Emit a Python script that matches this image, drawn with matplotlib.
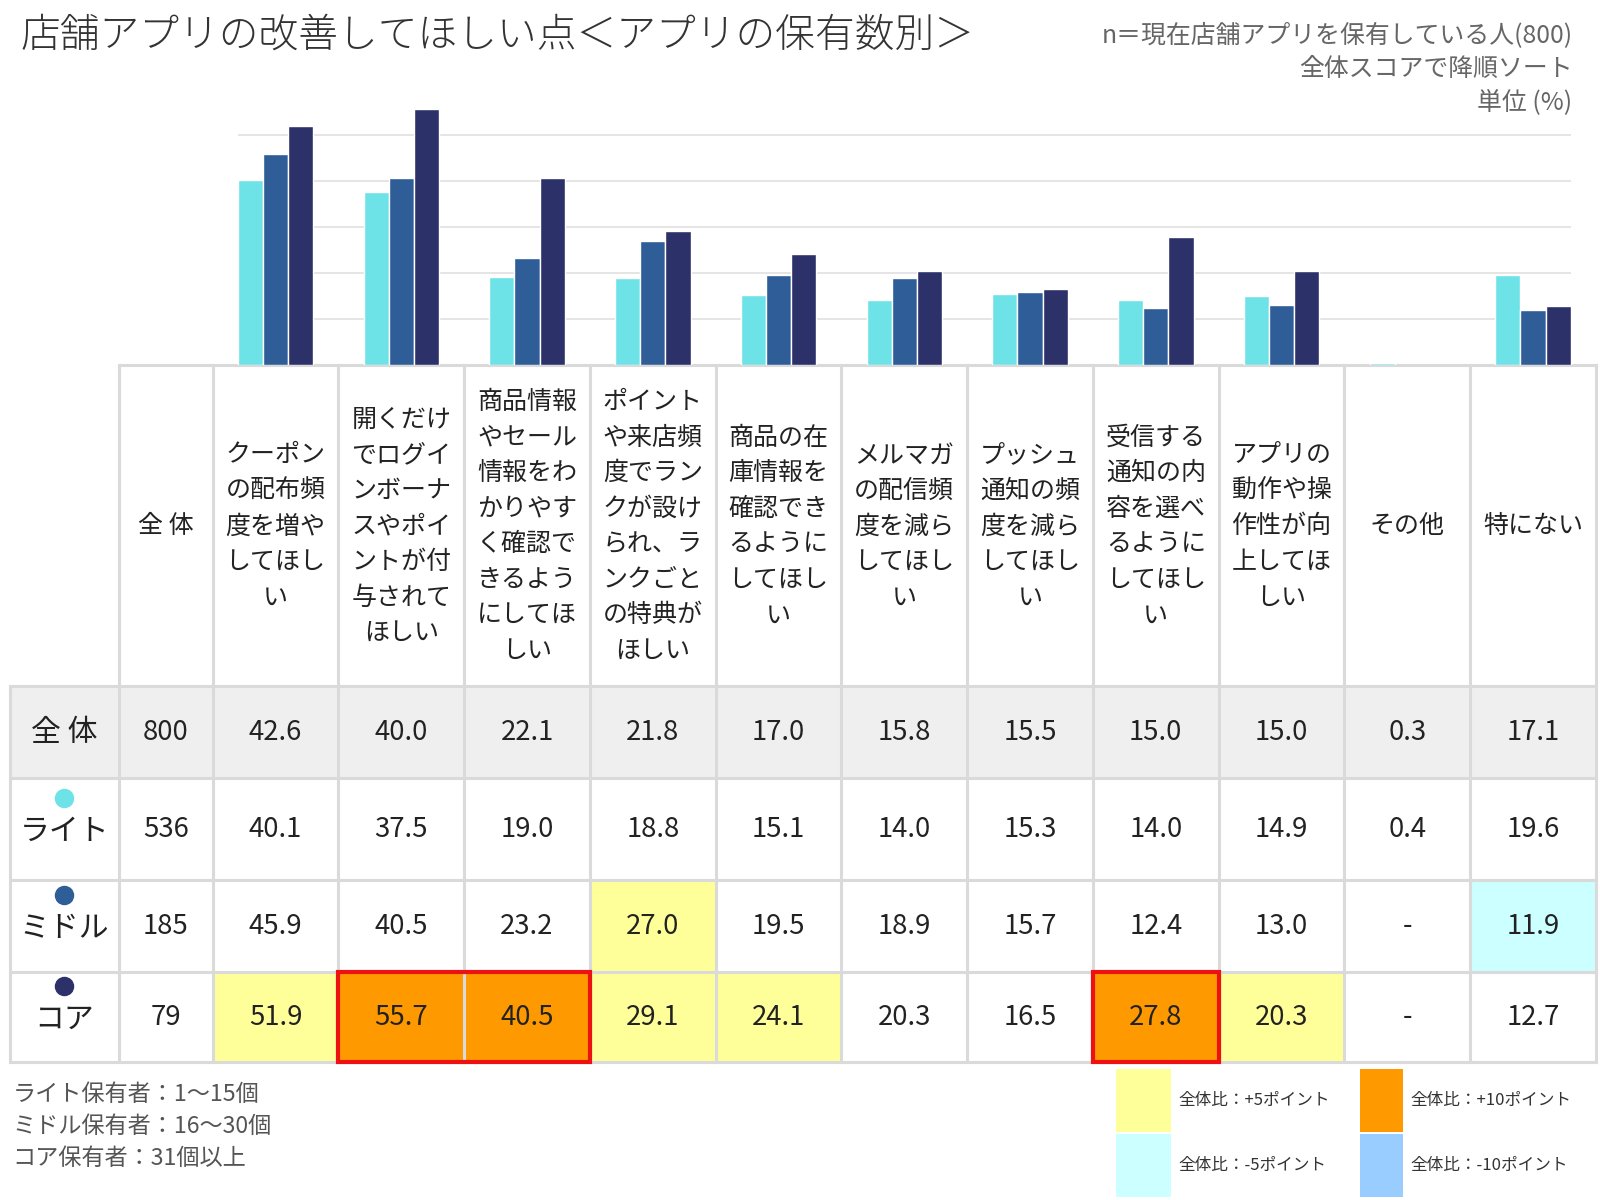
import numpy as np
import matplotlib
matplotlib.use("Agg")
import matplotlib.pyplot as plt
from matplotlib.patches import Rectangle

plt.rcParams['font.family'] = ['Noto Sans CJK JP', 'DejaVu Sans']

# ---------------- data ----------------
title = "店舗アプリの改善してほしい点＜アプリの保有数別＞"
notes = ["n＝現在店舗アプリを保有している人(800)", "全体スコアで降順ソート", "単位 (%)"]
categories = [
    "クーポン\nの配布頻\n度を増や\nしてほし\nい",
    "開くだけ\nでログイ\nンボーナ\nスやポイ\nントが付\n与されて\nほしい",
    "商品情報\nやセール\n情報をわ\nかりやす\nく確認で\nきるよう\nにしてほ\nしい",
    "ポイント\nや来店頻\n度でラン\nクが設け\nられ、ラ\nンクごと\nの特典が\nほしい",
    "商品の在\n庫情報を\n確認でき\nるように\nしてほし\nい",
    "メルマガ\nの配信頻\n度を減ら\nしてほし\nい",
    "プッシュ\n通知の頻\n度を減ら\nしてほし\nい",
    "受信する\n通知の内\n容を選べ\nるように\nしてほし\nい",
    "アプリの\n動作や操\n作性が向\n上してほ\nしい",
    "その他",
    "特にない",
]
n_header = "全 体"
groups = ["全 体", "ライト", "ミドル", "コア"]
group_n = [800, 536, 185, 79]
overall = [42.6, 40.0, 22.1, 21.8, 17.0, 15.8, 15.5, 15.0, 15.0, 0.3, 17.1]
light = [40.1, 37.5, 19.0, 18.8, 15.1, 14.0, 15.3, 14.0, 14.9, 0.4, 19.6]
middle = [45.9, 40.5, 23.2, 27.0, 19.5, 18.9, 15.7, 12.4, 13.0, np.nan, 11.9]
core = [51.9, 55.7, 40.5, 29.1, 24.1, 20.3, 16.5, 27.8, 20.3, np.nan, 12.7]
footnotes = ["ライト保有者：1〜15個", "ミドル保有者：16〜30個", "コア保有者：31個以上"]
legend_labels = ["全体比：+5ポイント", "全体比：-5ポイント", "全体比：+10ポイント", "全体比：-10ポイント"]
grid_values = [10, 20, 30, 40, 50]

# ---------------- style ----------------
bar_colors = ["#6DE3E8", "#2E5D98", "#2D3169"]
hl_colors = {"p5": "#FFFF99", "m5": "#CCFFFF", "p10": "#FF9900", "m10": "#99CCFF"}
grid_col = "#DADADA"
text_col = "#222222"

W, H = 1565.0, 1175.0  # layout frame
fig = plt.figure(figsize=(16, 12), dpi=100)
fig.patch.set_facecolor("white")

def fx(x):
    return x / W

def fy(y):
    return 1 - y / H

# overlay axes in layout pixel coordinates
ax_t = fig.add_axes([0, 0, 1, 1], zorder=0)
ax_t.set_xlim(0, W)
ax_t.set_ylim(H, 0)
ax_t.axis("off")

# table geometry
lab_l, n_l, cat_l, tab_r = 10, 116, 208, 1561
col_w = (tab_r - cat_l) / len(categories)
head_top, head_bot = 357, 672
row_edges = [672, 762, 862, 952, 1040]

# ---------------- bar chart ----------------
px_per_pct = 4.5
top_px = 100
ax_b = fig.add_axes([fx(cat_l), fy(head_top), fx(tab_r) - fx(cat_l), (head_top - top_px) / H], zorder=2)
ax_b.patch.set_alpha(0)
ax_b.set_xlim(-0.5, len(categories) - 0.5)
ax_b.set_ylim(0, (head_top - top_px) / px_per_pct)
ax_b.axis("off")
bw = 0.2
ax_b.hlines(grid_values, -0.3, len(categories) - 1 + 0.3, colors="#E3E3E3", linewidth=1.3, zorder=0)
x = np.arange(len(categories))
for k, (vals, c) in enumerate(zip([light, middle, core], bar_colors)):
    ax_b.bar(x + (k - 1) * bw, vals, width=bw, color=c, edgecolor="white", linewidth=1.0, zorder=2)

# ---------------- table ----------------
ax_t.add_patch(Rectangle((lab_l, row_edges[0]), tab_r - lab_l, row_edges[1] - row_edges[0],
                         facecolor="#F0EFF0", edgecolor="none", zorder=1))

group_vals = [overall, light, middle, core]
orange_runs = []
for r in range(1, 4):
    run = None
    for i in range(len(categories)):
        v = group_vals[r][i]
        key = None
        if not np.isnan(v):
            d = v - overall[i]
            if d >= 10:
                key = "p10"
            elif d >= 5:
                key = "p5"
            elif d <= -10:
                key = "m10"
            elif d <= -5:
                key = "m5"
        if key:
            ax_t.add_patch(Rectangle((cat_l + i * col_w, row_edges[r]), col_w, row_edges[r + 1] - row_edges[r],
                                     facecolor=hl_colors[key], edgecolor="none", zorder=1))
        if key == "p10":
            if run is None:
                run = [r, i, i]
            else:
                run[2] = i
        else:
            if run is not None:
                orange_runs.append(run)
                run = None
    if run is not None:
        orange_runs.append(run)

# grid lines
lw = 2.2
ax_t.plot([n_l, tab_r], [head_top, head_top], color=grid_col, lw=lw, zorder=2, solid_capstyle="butt")
for y in row_edges:
    ax_t.plot([lab_l, tab_r], [y, y], color=grid_col, lw=lw, zorder=2, solid_capstyle="butt")
ax_t.plot([lab_l, lab_l], [row_edges[0], row_edges[-1]], color=grid_col, lw=lw, zorder=2)
for xv in [n_l, cat_l] + [cat_l + (i + 1) * col_w for i in range(len(categories))]:
    ax_t.plot([xv, xv], [head_top, row_edges[-1]], color=grid_col, lw=lw, zorder=2)

# red borders around +10 cells
for r, i0, i1 in orange_runs:
    ax_t.add_patch(Rectangle((cat_l + i0 * col_w, row_edges[r]), (i1 - i0 + 1) * col_w,
                             row_edges[r + 1] - row_edges[r], facecolor="none",
                             edgecolor="#EE1111", linewidth=3.0, zorder=3))

# header labels
head_c = (head_top + head_bot) / 2 + 1
line_step = 34.8
ax_t.text((n_l + cat_l) / 2, head_c, n_header, ha="center", va="center", fontsize=18, color=text_col, zorder=4)
for i, cat in enumerate(categories):
    lines = cat.split("\n")
    cx = cat_l + (i + 0.5) * col_w
    y0 = head_c - (len(lines) - 1) * line_step / 2
    for j, ln in enumerate(lines):
        ax_t.text(cx, y0 + j * line_step, ln, ha="center", va="center", fontsize=18, color=text_col, zorder=4)

# rows
for r in range(4):
    yc = (row_edges[r] + row_edges[r + 1]) / 2
    if r == 0:
        ax_t.text((lab_l + n_l) / 2, yc, groups[r], ha="center", va="center", fontsize=21.5, color=text_col, zorder=4)
    else:
        ax_t.plot([(lab_l + n_l) / 2], [yc - 31], marker="o", markersize=13, color=bar_colors[r - 1],
                  linestyle="none", zorder=4)
        ax_t.text((lab_l + n_l) / 2, yc + 2, groups[r], ha="center", va="center", fontsize=21.5, color=text_col, zorder=4)
    ax_t.text((n_l + cat_l) / 2, yc, str(group_n[r]), ha="center", va="center", fontsize=19.8, color=text_col, zorder=4)
    for i in range(len(categories)):
        v = group_vals[r][i]
        s = "-" if np.isnan(v) else f"{v:.1f}"
        ax_t.text(cat_l + (i + 0.5) * col_w, yc, s, ha="center", va="center", fontsize=19.8, color=text_col, zorder=4)

# ---------------- titles & notes ----------------
ax_t.text(20, 35, title, ha="left", va="center", fontsize=28.6, color="#333333", fontweight="light")
for k, t in enumerate(notes):
    ax_t.text(1538, 35 + k * 32.5, t, ha="right", va="center", fontsize=17.9, color="#666666")
for k, t in enumerate(footnotes):
    ax_t.text(12, 1072 + k * 31, t, ha="left", va="center", fontsize=16.7, color="#555555")

# ---------------- legend ----------------
leg_pos = [(1092, 1047, 53, 61, "p5"), (1092, 1110, 53, 62, "m5"),
           (1330, 1047, 42, 61, "p10"), (1330, 1110, 42, 62, "m10")]
for (lx, ly, lwid, lh, key), lab in zip(leg_pos, legend_labels):
    ax_t.add_patch(Rectangle((lx, ly), lwid, lh, facecolor=hl_colors[key], edgecolor="none", zorder=1))
    ax_t.text(lx + lwid + 8, ly + lh / 2, lab, ha="left", va="center", fontsize=12, color="#333333")

fig.savefig("out.png", dpi=100, facecolor="white")
